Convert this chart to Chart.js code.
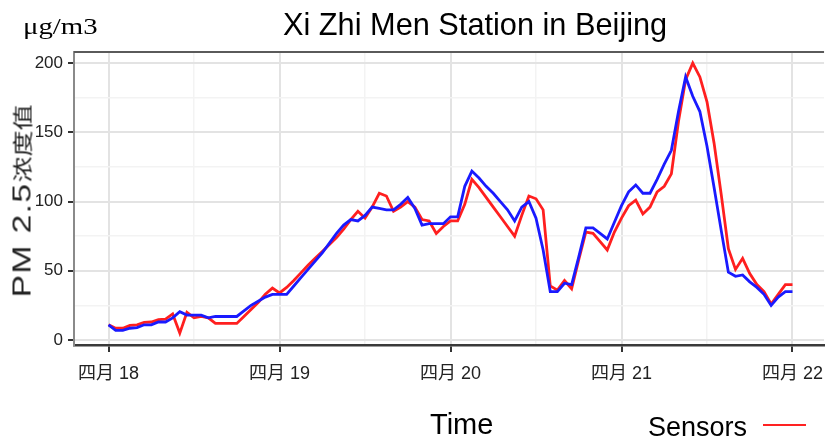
<!DOCTYPE html>
<html>
<head>
<meta charset="utf-8">
<title>Xi Zhi Men Station in Beijing</title>
<script src="https://cdn.jsdelivr.net/npm/chart.js@4.4.1/dist/chart.umd.min.js"></script>
<style>
  body { margin: 0; background: #fff; }
  #wrap { position: relative; width: 834px; height: 438px; overflow: hidden; }
  #wrap canvas { position: absolute; left: 0; top: 0; }
  .txt { position: absolute; white-space: nowrap; color: #000; line-height: 1; }
  #unit { left: 23px; top: 13px; font: 24px "Liberation Serif", serif; transform-origin: 0 0; transform: scaleX(1.2); }
  #title { left: 283px; top: 6px; font: 32px "Liberation Sans", Arial, sans-serif; transform-origin: 0 0; transform: scaleX(0.96); }
  #ytitle { left: 22px; top: 201px; font: 20px "Liberation Sans", "Noto Sans CJK SC", sans-serif; color: #222;
            transform: translate(-50%, -50%) rotate(-90deg) scaleX(1.3); }
  #ytitle .lat { font-size: 26px; letter-spacing: 1px; }
  #xtitle { left: 430px; top: 408px; font: 29px "Liberation Sans", Arial, sans-serif; }
  #legend { left: 648px; top: 412px; font: 27px "Liberation Sans", Arial, sans-serif; }
  #legend .key { position: absolute; left: 115px; top: 12px; width: 43px; height: 2px; background: #f22; }
</style>
</head>
<body>
<div id="wrap">
  <canvas id="pmChart" width="834" height="438"></canvas>
  <div class="txt" id="unit">μg/m3</div>
  <div class="txt" id="title">Xi Zhi Men Station in Beijing</div>
  <div class="txt" id="ytitle"><span class="lat">PM 2.5</span>浓度值</div>
  <div class="txt" id="xtitle">Time</div>
  <div class="txt" id="legend">Sensors<span class="key"></span></div>
</div>
<script>
// hours since 四月 18 00:00
const hours = [
   0,  1,  2,  3,  4,  5,  6,  7,  8,  9, 10, 11, 12, 13, 14, 15, 16, 17, 18, 19, 20, 21, 22, 23,
  24, 25, 26, 27, 28, 29, 30, 31, 32, 33, 34, 35, 36, 37, 38, 39, 40, 41, 42, 43, 44, 45, 46, 47,
  48, 49, 50, 51, 52, 53, 54, 55, 56, 57, 58, 59, 60, 61, 62, 63, 64, 65, 66, 67, 68, 69, 70, 71,
  72, 73, 74, 75, 76, 77, 78, 79, 80, 81, 82, 83, 84, 85, 86, 87, 88, 89, 90, 91, 92, 93, 94, 95, 96
];

// station monitor (blue)
const station = [
  11, 7, 7, 8.5, 9, 11, 11, 13, 13, 16, 20.5, 18, 18, 18, 16, 17, 17, 17, 17, 21, 25, 28, 31, 33,
  33, 33, 39, 45, 51, 57, 63, 70, 77, 83, 87, 86, 90, 96, 95, 94, 94, 98, 103, 95, 83, 84, 84, 84,
  89, 89, 111, 122, 117, 111, 106, 100, 94, 86, 96, 100, 88, 65, 35, 35, 41, 40, 60, 81, 81, 77, 73, 85,
  97, 107, 112, 106, 106, 116, 127, 137, 165, 190, 176, 165, 140, 110, 79, 49, 46, 47, 42, 38, 33, 25, 31, 35, 35
];

// low-cost sensors (red)
const sensors = [
  11, 8.5, 8.5, 10.5, 11, 12.7, 13, 14.7, 15, 18.8, 5, 20, 16, 17, 16, 12, 12, 12, 12, 17, 22, 27, 33, 37.5,
  34, 38, 43, 48.5, 54, 59, 64, 69, 74, 80, 87, 93, 88, 96, 106, 104, 93, 96, 100, 96, 87, 86, 77, 82,
  86, 86, 98, 116, 110, 103, 96, 89, 82, 75, 90, 104, 102, 94, 39, 36, 43, 37, 58, 78, 77, 71, 65, 78,
  88, 97, 101, 91, 96, 107, 111, 120, 158, 188, 200, 190, 172, 142, 105, 66, 51, 59, 48, 40, 35, 26, 33, 40, 40
];

const dayTicks = [0, 12, 24, 36, 48, 60, 72, 84, 96];
const dayLabels = ['四月 18', '', '四月 19', '', '四月 20', '', '四月 21', '', '四月 22'];
const yTicks = [0, 25, 50, 75, 100, 125, 150, 175, 200];
const yLabels = ['0', '', '50', '', '100', '', '150', '', '200'];

const tickFont = "'Liberation Sans', 'Noto Sans CJK SC', sans-serif";

const topBorder = {
  id: 'topBorder',
  afterDraw(chart) {
    const { ctx, chartArea } = chart;
    ctx.save();
    ctx.strokeStyle = '#5a5a5a';
    ctx.lineWidth = 2;
    ctx.beginPath();
    ctx.moveTo(chartArea.left, chartArea.top);
    ctx.lineTo(chartArea.right, chartArea.top);
    ctx.stroke();
    ctx.restore();
  }
};

const isMajor = c => c.index % 2 === 0;

new Chart(document.getElementById('pmChart'), {
  type: 'line',
  data: {
    datasets: [
      {
        label: 'Station',
        data: hours.map((h, i) => ({ x: h, y: station[i] })),
        borderColor: '#1a1aff', borderWidth: 2.8, pointRadius: 0, tension: 0
      },
      {
        label: 'Sensors',
        data: hours.map((h, i) => ({ x: h, y: sensors[i] })),
        borderColor: '#ff1f1f', borderWidth: 2.8, pointRadius: 0, tension: 0
      }
    ]
  },
  options: {
    responsive: false, devicePixelRatio: 1, animation: false,
    layout: { padding: { top: 52, left: 0, right: 0, bottom: 0 } },
    plugins: { legend: { display: false }, title: { display: false }, tooltip: { enabled: false } },
    scales: {
      x: {
        type: 'linear', min: -4.85, max: 100.43,
        afterBuildTicks: s => { s.ticks = dayTicks.map(v => ({ value: v })); },
        afterFit: s => { s.height = 93; },
        ticks: {
          autoSkip: false, maxRotation: 0, padding: 11, color: '#222',
          font: { family: tickFont, size: 18 },
          callback: (v, i) => dayLabels[i]
        },
        grid: {
          color: c => isMajor(c) ? '#e3e3e3' : '#f3f3f3',
          lineWidth: c => isMajor(c) ? 2 : 1.5,
          tickColor: c => isMajor(c) ? '#333' : 'rgba(0,0,0,0)',
          tickLength: 7, tickWidth: 2
        },
        border: { color: '#3a3a3a', width: 2.5 }
      },
      y: {
        min: -3.6, max: 208,
        afterBuildTicks: s => { s.ticks = yTicks.map(v => ({ value: v })); },
        afterFit: s => { s.width = 74; },
        ticks: {
          autoSkip: false, padding: 5, color: '#222',
          font: { family: tickFont, size: 17 },
          callback: (v, i) => yLabels[i]
        },
        grid: {
          color: c => isMajor(c) ? '#e3e3e3' : '#f3f3f3',
          lineWidth: c => isMajor(c) ? 2 : 1.5,
          tickColor: c => isMajor(c) ? '#333' : 'rgba(0,0,0,0)',
          tickLength: 6, tickWidth: 2
        },
        border: { color: '#8a8a8a', width: 2 }
      }
    }
  },
  plugins: [topBorder]
});
</script>
</body>
</html>
